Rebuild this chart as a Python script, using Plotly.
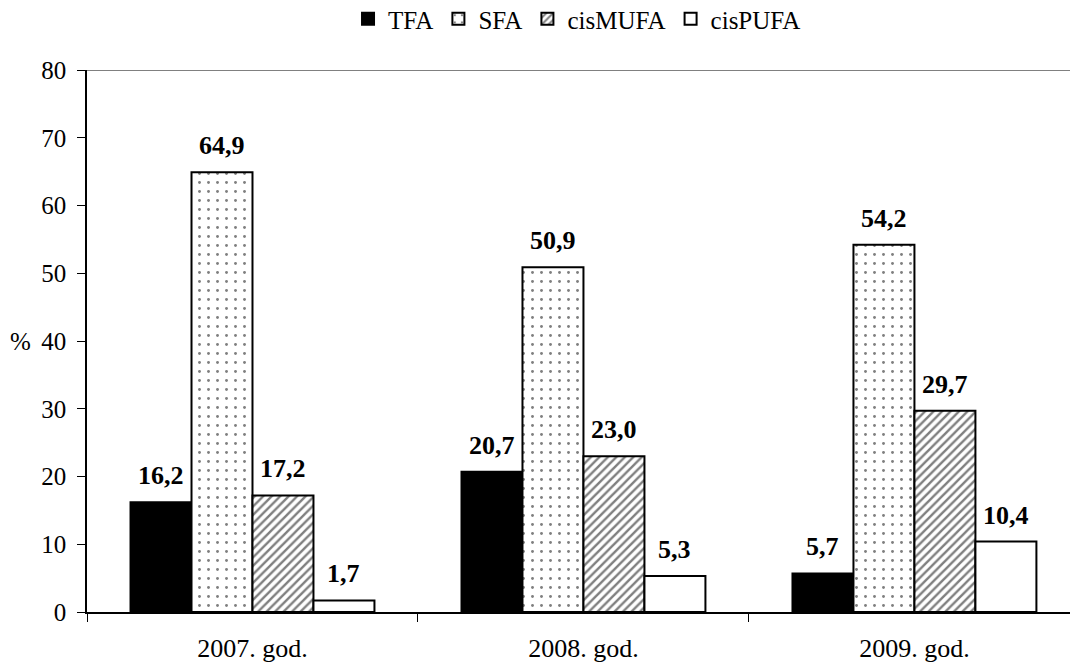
import plotly.graph_objects as go

categories = ["2007. god.", "2008. god.", "2009. god."]
tfa = [16.2, 20.7, 5.7]
sfa = [64.9, 50.9, 54.2]
cismufa = [17.2, 23.0, 29.7]
cispufa = [1.7, 5.3, 10.4]
series_names = ["TFA", "SFA", "cisMUFA", "cisPUFA"]
y_ticks = [0, 10, 20, 30, 40, 50, 60, 70, 80]

FONT = "Liberation Serif"
BARGAP = 0.263

styles = [
    dict(color="black"),
    dict(color="white", pattern=dict(shape=".", fgcolor="black", bgcolor="white", size=9, solidity=0.08)),
    dict(color="white", pattern=dict(shape="/", fgcolor="black", bgcolor="white", size=6, solidity=0.4)),
    dict(color="white"),
]

all_series = [tfa, sfa, cismufa, cispufa]
fig = go.Figure()
for name, vals, st in zip(series_names, all_series, styles):
    fig.add_trace(go.Bar(
        x=categories, y=vals, name=name,
        marker=dict(**st, line=dict(color="black", width=2)),
    ))

# bold value labels above bars
n = len(all_series)
w = (1 - BARGAP) / n
for i, vals in enumerate(all_series):
    for j, v in enumerate(vals):
        fig.add_annotation(
            x=j + (i - (n - 1) / 2) * w, y=v, xref="x", yref="y",
            text="<b>" + f"{v:.1f}".replace(".", ",") + "</b>",
            showarrow=False, yanchor="bottom", yshift=10,
            font=dict(family=FONT, size=26, color="black"),
        )

fig.update_layout(
    width=1070, height=666,
    barmode="group", bargap=BARGAP, bargroupgap=0,
    plot_bgcolor="white", paper_bgcolor="white",
    margin=dict(l=87, r=0, t=70, b=54, autoexpand=False),
    font=dict(family=FONT, size=25, color="black"),
    showlegend=True,
    legend=dict(orientation="h", x=0.4985, xanchor="center", y=1.094, yanchor="middle",
                font=dict(family=FONT, size=25), itemwidth=30, tracegroupgap=0,
                bgcolor="rgba(0,0,0,0)"),
)
fig.update_xaxes(
    range=[-0.5, 2.47], showline=True, linecolor="black", linewidth=2,
    ticks="outside", tickson="boundaries", ticklen=8, tickcolor="black",
    showgrid=False, tickfont=dict(family=FONT, size=26), automargin=False,
    ticklabelstandoff=12,
)
fig.update_yaxes(
    range=[0, 80], tickvals=y_ticks, showline=True, linecolor="black", linewidth=1.5,
    ticks="outside", ticklen=8, tickcolor="black", showgrid=False, zeroline=False,
    tickfont=dict(family=FONT, size=25), automargin=False, ticklabelstandoff=6,
)
fig.add_shape(type="line", xref="paper", yref="y", x0=0, x1=1, y0=80, y1=80,
              line=dict(color="#808080", width=2))
fig.add_annotation(text="%", xref="paper", yref="y", x=-0.0675, y=40, showarrow=False,
                   xanchor="center", font=dict(family=FONT, size=25))

fig.write_html(
    "out.html",
    config={"displayModeBar": False},
    post_script="document.body.style.margin='0';document.body.style.overflow='hidden';",
)
